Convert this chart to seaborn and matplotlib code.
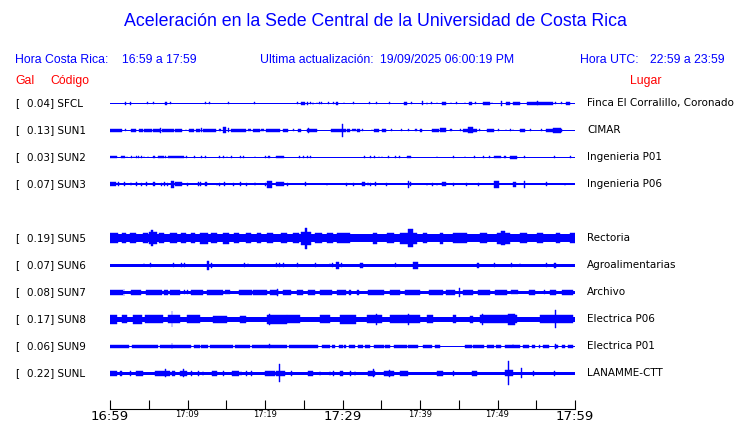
import matplotlib
matplotlib.use('Agg')
import matplotlib.pyplot as plt
import seaborn as sns

# ---- data ----
codes = ['SFCL', 'SUN1', 'SUN2', 'SUN3', 'SUN5', 'SUN6', 'SUN7', 'SUN8', 'SUN9', 'SUNL']
rows = [0, 1, 2, 3, 5, 6, 7, 8, 9, 10]   # SUN4 slot left empty
gal = [0.04, 0.13, 0.03, 0.07, 0.19, 0.07, 0.08, 0.17, 0.06, 0.22]
places = ['Finca El Corralillo, Coronado', 'CIMAR', 'Ingenieria P01', 'Ingenieria P06',
          'Rectoria', 'Agroalimentarias', 'Archivo', 'Electrica P06', 'Electrica P01',
          'LANAMME-CTT']

# background trace level (relative amplitude units, half height)
base_amp = [0.5, 0.7, 0.5, 1.2, 3.8, 1.5, 1.3, 2.5, 0.6, 1.5]

# bursts: (start minute, end minute, half amplitude), minute 0 = 16:59
sfcl_bursts = [(1.9, 2.0, 1.3), (2.55, 2.65, 1.3), (4.75, 4.85, 1.0), (5.55, 5.65, 0.8), (7.1, 7.35, 1.5),
               (7.75, 7.85, 0.8), (12.25, 12.35, 1.0), (12.75, 12.85, 1.0), (15.25, 15.35, 0.8), (18.55, 18.65, 1.0),
               (24.15, 24.25, 0.8), (24.7, 25.15, 1.5), (25.45, 25.55, 1.3), (25.85, 25.95, 1.0), (26.15, 26.25, 1.3),
               (26.65, 26.75, 1.0), (26.95, 27.05, 1.0), (27.25, 27.35, 1.0), (28.15, 28.25, 0.8), (28.75, 28.85, 1.0),
               (29.2, 29.45, 1.3), (30.15, 30.25, 1.0), (31.35, 31.45, 1.0), (33.45, 33.55, 1.0), (34.35, 34.45, 1.0),
               (36.05, 36.15, 1.0), (37.9, 38.3, 1.3), (38.85, 38.95, 0.8), (40.2, 40.4, 2.0), (40.85, 40.95, 1.3),
               (41.45, 41.55, 1.0), (42.15, 42.25, 1.0), (42.8, 43.4, 1.3), (43.95, 44.05, 0.8), (44.65, 44.75, 1.0),
               (45.75, 45.85, 0.8), (46.35, 46.65, 1.3), (47.15, 47.25, 0.8), (48.1, 49.0, 1.3), (49.25, 49.35, 1.0),
               (50.45, 50.55, 2.3), (51.1, 51.6, 1.3), (52.0, 52.9, 1.3), (53.8, 57.2, 1.3), (55.15, 55.25, 2.0),
               (57.45, 57.55, 1.0), (58.25, 58.35, 1.0), (58.9, 59.4, 1.3)]
sun1_bursts = [(0.0, 1.6, 1.3), (1.9, 2.0, 1.0), (2.7, 3.4, 1.3), (3.7, 4.2, 1.3), (4.4, 5.4, 1.3), (5.5, 6.4, 1.3),
               (6.45, 6.55, 2.3), (6.7, 8.3, 1.3), (8.4, 9.3, 1.3), (9.75, 9.85, 1.0), (10.2, 10.8, 1.3),
               (11.1, 11.6, 1.3), (11.75, 11.85, 2.0), (12.0, 13.7, 1.3), (14.0, 14.3, 1.0), (14.6, 15.0, 3.0),
               (15.25, 15.35, 2.0), (15.6, 17.5, 1.3), (17.8, 18.2, 1.0), (18.5, 19.3, 1.3), (19.5, 19.9, 1.0),
               (20.1, 21.9, 1.3), (22.3, 23.0, 1.3), (23.6, 23.7, 1.0), (24.3, 24.7, 1.3), (25.4, 26.7, 1.3),
               (25.6, 25.7, 2.3), (28.5, 30.5, 1.3), (29.95, 30.05, 6.3), (30.6, 31.0, 1.3), (31.2, 31.7, 1.0),
               (31.9, 32.3, 1.3), (32.55, 32.65, 1.0), (33.75, 33.85, 1.0), (34.1, 34.7, 1.3), (35.1, 35.6, 1.3),
               (36.25, 36.35, 1.0), (37.55, 37.65, 1.0), (38.45, 38.55, 1.0), (39.4, 39.6, 1.0), (40.0, 40.3, 1.3),
               (41.5, 42.4, 1.3), (42.6, 43.4, 2.0), (43.9, 44.1, 1.0), (45.15, 45.25, 1.0), (45.5, 47.3, 1.3),
               (46.2, 46.8, 3.0), (47.65, 47.75, 1.0), (48.6, 49.5, 1.3), (50.05, 50.15, 1.0), (51.05, 51.15, 1.0),
               (51.65, 51.75, 1.0), (51.95, 52.05, 1.0), (52.9, 53.5, 1.3), (54.25, 54.35, 1.0), (55.65, 55.75, 1.0),
               (56.3, 58.3, 1.3), (57.1, 58.2, 2.5)]
sun2_bursts = [(0.0, 0.95, 1.2), (1.4, 1.9, 1.2), (2.15, 2.25, 1.0), (2.75, 2.85, 1.0), (3.05, 3.15, 1.0),
               (3.35, 3.45, 1.0), (3.65, 3.75, 1.0), (4.05, 4.15, 1.0), (4.35, 4.45, 1.0), (4.85, 4.95, 1.0),
               (5.5, 5.8, 1.2), (6.2, 7.0, 1.2), (7.15, 7.25, 1.0), (7.5, 9.5, 1.2), (9.85, 9.95, 1.0),
               (10.85, 10.95, 1.0), (11.75, 11.85, 1.0), (12.25, 12.35, 1.0), (14.05, 14.15, 0.8), (14.55, 14.65, 1.0),
               (15.05, 15.15, 0.8), (15.65, 15.75, 1.0), (16.75, 16.85, 1.0), (17.15, 17.25, 0.8), (18.65, 18.75, 0.8),
               (20.05, 20.15, 1.0), (20.4, 20.7, 1.2), (21.4, 22.4, 1.2), (24.45, 24.55, 1.0), (24.95, 25.05, 1.0),
               (25.45, 25.55, 1.0), (25.85, 25.95, 0.8), (32.75, 32.85, 1.2), (33.55, 33.65, 1.0), (34.05, 34.15, 0.8),
               (34.65, 34.75, 1.0), (35.05, 35.15, 0.8), (35.85, 35.95, 0.8), (36.75, 36.85, 0.8), (37.35, 37.45, 0.8),
               (38.3, 38.9, 1.2), (42.15, 42.25, 0.8), (44.25, 44.35, 0.8), (45.75, 45.85, 0.8), (46.95, 47.05, 1.0),
               (48.15, 48.25, 0.8), (48.95, 49.05, 0.8), (49.6, 50.5, 1.2), (50.8, 51.1, 1.0), (51.6, 52.5, 1.3),
               (53.45, 53.55, 0.8), (57.35, 57.45, 1.0), (59.35, 59.45, 0.8)]
sun3_bursts = [(0.0, 0.8, 2.0), (1.05, 1.15, 1.8), (1.85, 1.95, 1.8), (2.65, 2.75, 1.8), (3.35, 3.45, 1.8),
               (4.05, 4.15, 1.5), (4.65, 4.75, 1.8), (5.6, 5.8, 2.0), (6.55, 6.65, 1.5), (6.95, 7.05, 1.8),
               (7.35, 7.45, 1.5), (7.9, 8.3, 3.5), (8.4, 9.3, 2.0), (9.95, 10.05, 1.5), (11.35, 11.45, 1.8),
               (11.65, 11.75, 1.8), (12.3, 12.5, 2.0), (13.75, 13.85, 1.5), (14.05, 14.15, 1.5), (14.75, 14.85, 1.8),
               (15.85, 15.95, 1.5), (16.75, 16.85, 1.8), (17.55, 17.65, 1.5), (18.65, 18.75, 1.8), (20.05, 20.15, 1.5),
               (20.3, 20.9, 3.5), (21.4, 22.4, 2.0), (22.85, 22.95, 1.5), (25.15, 25.25, 1.8), (27.95, 28.05, 1.5),
               (30.45, 30.55, 1.5), (31.35, 31.45, 1.5), (32.5, 32.9, 2.0), (33.25, 33.35, 1.8), (33.55, 33.65, 1.5),
               (34.25, 34.35, 1.8), (35.65, 35.75, 1.5), (38.45, 38.6, 3.5), (38.75, 38.85, 2.0), (40.85, 40.95, 1.5),
               (41.55, 41.65, 1.5), (42.15, 42.25, 1.5), (42.8, 43.4, 1.8), (44.25, 44.35, 1.5), (45.95, 46.05, 1.5),
               (47.45, 47.55, 1.5), (49.6, 50.2, 3.5), (52.0, 52.4, 2.5), (53.45, 53.6, 3.5), (56.25, 56.35, 1.8),
               (58.65, 58.75, 1.5)]
sun5_bursts = [(0.0, 1.0, 4.8), (1.5, 2.0, 5.0), (2.6, 3.4, 4.8), (4.3, 4.9, 5.0), (5.0, 6.0, 6.0), (5.3, 5.5, 8.0),
               (6.3, 7.0, 5.0), (7.8, 8.6, 4.8), (9.2, 9.8, 5.0), (10.4, 11.0, 4.8), (11.6, 12.6, 5.5), (13.0, 13.8, 4.8),
               (14.6, 15.4, 5.5), (16.0, 16.6, 4.8), (17.5, 18.2, 5.0), (19.0, 19.5, 4.8), (20.3, 21.0, 5.0),
               (22.0, 22.8, 4.8), (23.6, 24.4, 5.0), (24.6, 25.9, 6.5), (25.2, 25.4, 10.5), (26.5, 27.3, 5.0),
               (28.0, 28.8, 4.8), (29.3, 31.0, 5.0), (33.9, 34.4, 5.5), (35.7, 36.6, 4.8), (37.4, 39.6, 5.5),
               (38.5, 39.1, 9.0), (40.4, 40.9, 5.0), (42.6, 43.0, 5.5), (44.3, 46.0, 5.0), (47.7, 48.6, 4.8),
               (49.9, 51.6, 5.5), (50.5, 51.0, 7.0), (52.9, 53.8, 5.0), (55.1, 55.9, 4.8), (57.6, 58.1, 4.8),
               (59.4, 60.0, 5.0)]
sun6_bursts = [(4.35, 4.45, 2.2), (5.15, 5.25, 2.2), (8.15, 8.25, 2.2), (9.15, 9.25, 2.2), (9.55, 9.65, 2.2),
               (12.5, 12.8, 4.5), (13.05, 13.15, 2.5), (17.35, 17.45, 2.2), (17.75, 17.85, 2.2), (21.45, 21.55, 2.2),
               (21.85, 21.95, 2.2), (22.35, 22.45, 2.0), (24.15, 24.25, 2.0), (26.45, 26.55, 2.0), (28.35, 28.45, 2.2),
               (28.65, 28.75, 2.2), (29.2, 29.55, 3.5), (29.85, 29.95, 2.2), (32.3, 32.6, 2.5), (36.75, 36.85, 2.0),
               (39.1, 39.7, 3.5), (47.3, 47.6, 2.5), (49.55, 49.65, 2.0), (51.75, 51.85, 2.0), (52.85, 52.95, 2.2),
               (56.25, 56.35, 2.0), (57.3, 57.5, 2.5)]
sun7_bursts = [(0.0, 1.7, 2.3), (1.75, 1.85, 3.5), (2.7, 4.0, 2.3), (4.6, 6.7, 2.3), (7.0, 7.5, 2.3), (7.8, 9.0, 2.3),
               (9.6, 9.7, 2.0), (9.9, 10.0, 2.0), (10.5, 12.0, 2.3), (12.5, 14.6, 2.3), (14.9, 15.5, 2.0),
               (16.6, 18.3, 2.3), (18.5, 20.2, 2.3), (20.6, 21.7, 2.3), (21.6, 21.7, 3.5), (22.3, 23.4, 2.3),
               (24.1, 24.9, 2.3), (25.6, 26.5, 2.3), (27.1, 28.6, 2.3), (29.3, 30.5, 2.3), (30.9, 31.1, 2.3),
               (31.9, 32.1, 2.5), (33.3, 35.3, 2.3), (36.1, 37.4, 2.3), (38.1, 40.0, 2.3), (41.1, 43.0, 2.3),
               (43.4, 44.5, 2.3), (45.0, 45.15, 4.5), (45.6, 46.9, 2.3), (47.5, 49.0, 2.3), (49.7, 51.2, 2.3),
               (51.8, 52.7, 2.0), (54.0, 54.8, 2.3), (56.05, 56.15, 2.0), (56.8, 57.6, 2.3), (58.3, 59.8, 2.5)]
sun8_bursts = [(0.0, 0.9, 4.5), (1.5, 2.2, 4.0), (3.0, 4.1, 4.5), (4.5, 6.9, 4.0), (7.5, 9.0, 4.0), (7.95, 8.05, 8.0),
               (9.9, 11.6, 4.0), (13.3, 15.1, 3.5), (16.8, 17.6, 3.5), (20.2, 22.8, 4.5), (20.55, 20.65, 5.5),
               (22.8, 24.5, 4.0), (27.1, 28.4, 4.0), (29.7, 31.8, 4.5), (33.1, 35.1, 4.0), (34.35, 34.45, 5.5),
               (36.1, 40.0, 4.0), (38.45, 38.55, 5.5), (40.9, 41.7, 4.0), (44.3, 44.7, 4.0), (46.5, 46.9, 3.5),
               (47.7, 52.5, 4.0), (48.05, 48.15, 5.5), (51.4, 52.3, 5.5), (55.5, 59.8, 4.0), (57.45, 57.55, 9.0)]
sun9_bursts = [(0.0, 2.4, 1.3), (2.8, 6.2, 1.3), (6.4, 10.5, 1.3), (7.95, 8.05, 3.0), (10.8, 11.6, 1.3),
               (11.8, 12.7, 1.3), (12.9, 15.9, 1.3), (16.1, 18.1, 1.3), (18.3, 22.8, 1.3), (20.55, 20.65, 2.0),
               (23.1, 26.9, 1.3), (27.3, 28.4, 1.3), (28.6, 29.0, 1.3), (29.5, 30.1, 1.3), (30.2, 30.5, 1.3),
               (30.8, 31.6, 1.3), (32.0, 32.7, 1.3), (32.9, 33.5, 1.3), (34.0, 35.3, 1.3), (35.5, 36.1, 1.3),
               (36.6, 38.3, 1.3), (38.5, 39.8, 1.3), (40.4, 41.5, 1.3), (41.9, 42.6, 1.3), (45.8, 46.7, 1.3),
               (46.9, 48.2, 1.3), (48.6, 49.5, 1.3), (49.8, 50.5, 1.3), (51.0, 52.9, 1.3), (51.95, 52.05, 2.0),
               (53.3, 54.0, 1.3), (54.4, 54.8, 1.3), (55.3, 55.5, 1.3), (55.9, 56.6, 1.3), (57.4, 57.8, 1.3),
               (57.45, 57.55, 2.5), (58.3, 58.7, 1.3), (59.1, 59.8, 1.3)]
sunl_bursts = [(0.0, 0.9, 2.5), (1.3, 1.5, 2.5), (2.55, 2.65, 2.5), (3.4, 4.3, 2.5), (5.8, 7.7, 2.5), (7.15, 7.25, 4.0),
               (8.0, 8.4, 2.5), (9.0, 9.9, 2.5), (9.45, 9.55, 4.0), (10.45, 10.55, 2.3), (11.35, 11.45, 2.3),
               (11.95, 12.05, 2.3), (13.1, 13.8, 2.5), (14.55, 14.65, 2.3), (15.7, 16.6, 2.5), (16.85, 16.95, 2.3),
               (17.55, 17.65, 2.3), (18.25, 18.35, 2.3), (20.0, 21.3, 2.5), (21.4, 22.6, 2.5), (21.8, 21.9, 9.0),
               (23.35, 23.45, 2.3), (25.6, 26.2, 2.5), (27.05, 27.15, 2.3), (28.35, 28.45, 2.3), (28.75, 28.85, 2.3),
               (29.7, 30.1, 2.5), (30.95, 31.05, 2.3), (31.55, 31.65, 2.3), (33.3, 34.2, 2.5), (33.95, 34.05, 4.0),
               (35.3, 36.6, 2.5), (36.05, 36.15, 3.5), (37.4, 38.5, 2.5), (42.2, 43.0, 2.5), (44.25, 44.35, 2.3),
               (46.7, 47.3, 2.5), (51.0, 52.0, 3.0), (51.35, 51.45, 12.0), (53.05, 53.15, 5.0), (54.55, 54.65, 2.3),
               (57.35, 57.45, 2.3)]
bursts = [sfcl_bursts, sun1_bursts, sun2_bursts, sun3_bursts, sun5_bursts,
          sun6_bursts, sun7_bursts, sun8_bursts, sun9_bursts, sunl_bursts]

tick_minutes = list(range(0, 61, 5))
tick_text = {0: '16:59', 10: '17:09', 20: '17:19', 30: '17:29', 40: '17:39', 50: '17:49', 60: '17:59'}
big_ticks = [0, 30, 60]

title = 'Aceleración en la Sede Central de la Universidad de Costa Rica'
updated = '19/09/2025 06:00:19 PM'

# ---- figure ----
sns.set_theme(style='white')
plt.rcParams['font.family'] = ['DejaVu Sans']
plt.rcParams['text.color'] = 'black'

BLUE = '#0000ff'
RED = '#ff0000'
W, H = 740, 423
AMP_SCALE = 1 / 27.0   # relative amplitude units -> row spacing

fig = plt.figure(figsize=(W / 100, H / 100), dpi=100)
ax = fig.add_axes([110 / W, (H - 409.3) / H, 465 / W, (409.3 - 88) / H])

for row, base, blist in zip(rows, base_amp, bursts):
    ax.bar(0, 2 * base * AMP_SCALE, width=60, bottom=row - base * AMP_SCALE, align='edge',
           color=BLUE, linewidth=0)
    starts = [b[0] for b in blist]
    widths = [b[1] - b[0] for b in blist]
    amps = [b[2] * AMP_SCALE for b in blist]
    ax.bar(starts, [2 * a for a in amps], width=widths, bottom=[row - a for a in amps], align='edge',
           color=BLUE, edgecolor=BLUE, linewidth=0.3)

ax.set_xlim(0, 60)
ax.set_ylim((409.3 - 103.3) / 27, (88 - 103.3) / 27)
ax.set_yticks([])
ax.set_xticks(tick_minutes)
ax.set_xticklabels([tick_text.get(m, '') for m in tick_minutes])
for m, lab in zip(tick_minutes, ax.get_xticklabels()):
    lab.set_fontsize(9.5 if m in big_ticks else 6)
    lab.set_color('black')
ax.tick_params(axis='x', direction='in', length=6.5, width=0.8, pad=0.5, colors='black', bottom=True)
sns.despine(ax=ax, left=True, top=True, right=True)
ax.spines['bottom'].set_color('black')
ax.spines['bottom'].set_linewidth(0.8)
ax.set_facecolor('none')


def fx(x):
    return x / W


def fy(y):
    return 1 - y / H


head = dict(family=['Liberation Sans', 'DejaVu Sans'], va='center')
fig.text(fx(375), fy(22), title, color=BLUE, fontsize=12.8, ha='center', **head)
fig.text(fx(15), fy(60), 'Hora Costa Rica:', color=BLUE, fontsize=8.8, **head)
fig.text(fx(122), fy(60), '16:59 a 17:59', color=BLUE, fontsize=8.8, **head)
fig.text(fx(260), fy(60), 'Ultima actualización:', color=BLUE, fontsize=8.8, **head)
fig.text(fx(380), fy(60), updated, color=BLUE, fontsize=8.8, **head)
fig.text(fx(580), fy(60), 'Hora UTC:', color=BLUE, fontsize=8.8, **head)
fig.text(fx(650), fy(60), '22:59 a 23:59', color=BLUE, fontsize=8.8, **head)
fig.text(fx(15), fy(81), 'Gal', color=RED, fontsize=8.8, **head)
fig.text(fx(50), fy(81), 'Código', color=RED, fontsize=8.8, **head)
fig.text(fx(630), fy(81), 'Lugar', color=RED, fontsize=8.8, **head)

for row, g, code, place in zip(rows, gal, codes, places):
    y = fy(103.3 + 27 * row)
    fig.text(fx(15), y, '[', fontsize=7.5, va='center', color='black')
    fig.text(fx(27), y, f'{g:.2f}] {code}', fontsize=7.5, va='center', color='black')
    fig.text(fx(587), y, place, fontsize=7.5, va='center', color='black')

fig.savefig('out.png', dpi=100, facecolor='white')
